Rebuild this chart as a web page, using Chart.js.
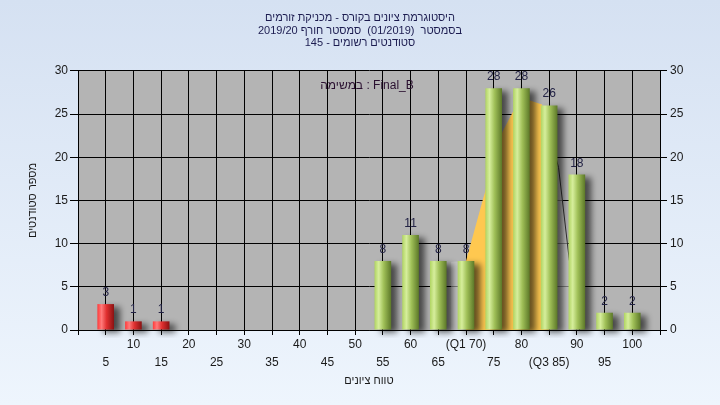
<!DOCTYPE html>
<html>
<head>
<meta charset="utf-8">
<script src="https://cdn.jsdelivr.net/npm/chart.js@4.4.1/dist/chart.umd.min.js"></script>
<style>
  html, body { margin: 0; padding: 0; }
  body {
    width: 720px;
    height: 405px;
    overflow: hidden;
    background: linear-gradient(#d5e1f2, #eef5fd);
  }
  canvas { display: block; }
</style>
</head>
<body>
<canvas id="histChart" width="720" height="405"></canvas>
<script>
// data
const grades = [5, 10, 15, 20, 25, 30, 35, 40, 45, 50, 55, 60, 65, 70, 75, 80, 85, 90, 95, 100];
const tickLabels = ["5", "10", "15", "20", "25", "30", "35", "40", "45", "50", "55", "60", "65",
  "(Q1 70)", "75", "80", "(Q3 85)", "90", "95", "100"];
const students = [3, 1, 1, 0, 0, 0, 0, 0, 0, 0, 8, 11, 8, 8, 28, 28, 26, 18, 2, 2];
const passFrom = 55;

// curve behind the bars (Q1..Q3 part in orange)
const curveQX = [70, 73, 76.6, 78.4, 81, 83.7, 85];
const curveQY = [8, 15, 23, 25.2, 26.7, 26.1, 23];
const curveLX = [67.3, 70];
const curveLY = [7.9, 8];
const curveRX = [85, 86.7, 88.6, 90.5];
const curveRY = [23, 18.8, 8.3, 0];

const titleLines = [
  "היסטוגרמת ציונים בקורס - מכניקת זורמים",
  "בסמסטר  (01/2019)  סמסטר חורף 2019/20",
  "סטודנטים רשומים - 145"
];
const xTitle = "טווח ציונים";
const yTitle = "מספר סטודנטים";
const taskLabel = "במשימה : Final_B";

function points(xs, ys) {
  return xs.map((x, i) => ({ x: x, y: ys[i] }));
}

const FONT = "'Liberation Sans', Arial, 'DejaVu Sans', sans-serif";
Chart.defaults.font.family = FONT;
Chart.defaults.font.size = 12;
Chart.defaults.color = "#1a1a1a";

function barFill(context) {
  const chart = context.chart;
  if (!chart.chartArea) return "#9cc050";
  const i = context.dataIndex;
  const xs = chart.scales.x;
  const cx = xs.getPixelForValue(grades[i]);
  const w = (xs.getPixelForValue(5) - xs.getPixelForValue(0)) * 0.6;
  const g = chart.ctx.createLinearGradient(cx - w / 2, 0, cx + w / 2, 0);
  if (grades[i] < passFrom) {
    g.addColorStop(0, "#ff3a3a");
    g.addColorStop(0.25, "#ff7a7a");
    g.addColorStop(0.55, "#e03030");
    g.addColorStop(1, "#8a1212");
  } else {
    g.addColorStop(0, "#b0d462");
    g.addColorStop(0.25, "#d6ee9c");
    g.addColorStop(0.55, "#a0c058");
    g.addColorStop(1, "#5c7828");
  }
  return g;
}

// grey plot background
const plotBg = {
  id: "plotBg",
  beforeDraw(chart) {
    const a = chart.chartArea;
    const c = chart.ctx;
    c.save();
    c.fillStyle = "#b4b4b4";
    c.fillRect(a.left, a.top, a.right - a.left, a.bottom - a.top);
    c.restore();
  }
};

// soft shadow to the right of the bars
const barShadow = {
  id: "barShadow",
  beforeDatasetDraw(chart, args) {
    if (args.meta.type !== "bar") return;
    const c = chart.ctx;
    c.save();
    c.shadowColor = "rgba(0,0,0,0.6)";
    c.shadowBlur = 6;
    c.shadowOffsetX = 6;
    c.shadowOffsetY = 3;
  },
  afterDatasetDraw(chart, args) {
    if (args.meta.type !== "bar") return;
    chart.ctx.restore();
  }
};

// numbers above bars + task label
const valueLabels = {
  id: "valueLabels",
  afterDatasetsDraw(chart) {
    const c = chart.ctx;
    const meta = chart.getDatasetMeta(0);
    c.save();
    c.font = "12px " + FONT;
    c.fillStyle = "#222244";
    c.textAlign = "center";
    c.textBaseline = "alphabetic";
    meta.data.forEach((bar, i) => {
      if (!students[i]) return;
      c.fillText(String(students[i]), bar.x, bar.y - 8);
    });
    c.fillStyle = "#2a1030";
    c.textBaseline = "middle";
    c.fillText(taskLabel, 367, 86);
    c.restore();
  }
};

const ctx = document.getElementById("histChart").getContext("2d");
new Chart(ctx, {
  data: {
    datasets: [
      {
        type: "bar",
        data: points(grades, students),
        backgroundColor: barFill,
        categoryPercentage: 1,
        barPercentage: 0.6,
        borderWidth: 0,
        clip: 8,
        order: 0,
      },
      {
        type: "line",
        data: points(curveQX, curveQY),
        fill: "origin",
        backgroundColor: "#ffc850",
        borderWidth: 0,
        pointRadius: 0,
        order: 1,
      },
      {
        type: "line",
        data: points(curveLX, curveLY),
        fill: "origin",
        backgroundColor: "rgba(205,205,205,0.6)",
        borderWidth: 0,
        pointRadius: 0,
        order: 1,
      },
      {
        type: "line",
        data: points(curveRX, curveRY),
        fill: "origin",
        backgroundColor: "rgba(205,205,205,0.6)",
        borderColor: "#333333",
        borderWidth: 1,
        pointRadius: 0,
        order: 1,
      },
    ],
  },
  options: {
    responsive: false,
    animation: false,
    layout: { padding: 0 },
    plugins: {
      legend: { display: false },
      tooltip: { enabled: false },
      title: {
        display: true,
        text: titleLines,
        color: "#1c1c50",
        font: { size: 11, weight: "normal", lineHeight: 1.18 },
        padding: { top: 11, bottom: 21 },
      },
    },
    scales: {
      x: {
        type: "linear",
        offset: false,
        min: 0,
        max: 105,
        ticks: {
          stepSize: 5,
          autoSkip: false,
          maxRotation: 0,
          padding: 1,
          color: "#1a1a1a",
          font: { size: 12, lineHeight: 1.5 },
          callback: (v) => {
            const i = grades.indexOf(v);
            if (i < 0) return "";
            return i % 2 === 0 ? ["", tickLabels[i]] : tickLabels[i];
          },
        },
        grid: { offset: false, color: "#000", lineWidth: 1, tickLength: 5, tickColor: "#000" },
        border: { color: "#000" },
        title: {
          display: true,
          text: xTitle,
          color: "#1a1a1a",
          font: { size: 11 },
          padding: { top: 0, bottom: 17 },
        },
        afterFit: (s) => { s.height = 75; },
      },
      y: {
        position: "left",
        min: 0,
        max: 30,
        ticks: { stepSize: 5, padding: 2, color: "#1a1a1a", font: { size: 12 } },
        grid: { color: "#000", lineWidth: 1, tickLength: 8, tickColor: "#000" },
        border: { color: "#000" },
        title: {
          display: true,
          text: yTitle,
          color: "#1a1a1a",
          font: { size: 11 },
          padding: { top: 26, bottom: 0 },
        },
        afterFit: (s) => { s.width = 78; },
      },
      y2: {
        position: "right",
        min: 0,
        max: 30,
        ticks: { stepSize: 5, padding: 3, color: "#1a1a1a", font: { size: 12 } },
        grid: { drawOnChartArea: false, tickLength: 7, tickColor: "#000" },
        border: { color: "#000" },
        afterFit: (s) => { s.width = 60; },
      },
    },
  },
  plugins: [plotBg, barShadow, valueLabels],
});
</script>
</body>
</html>
